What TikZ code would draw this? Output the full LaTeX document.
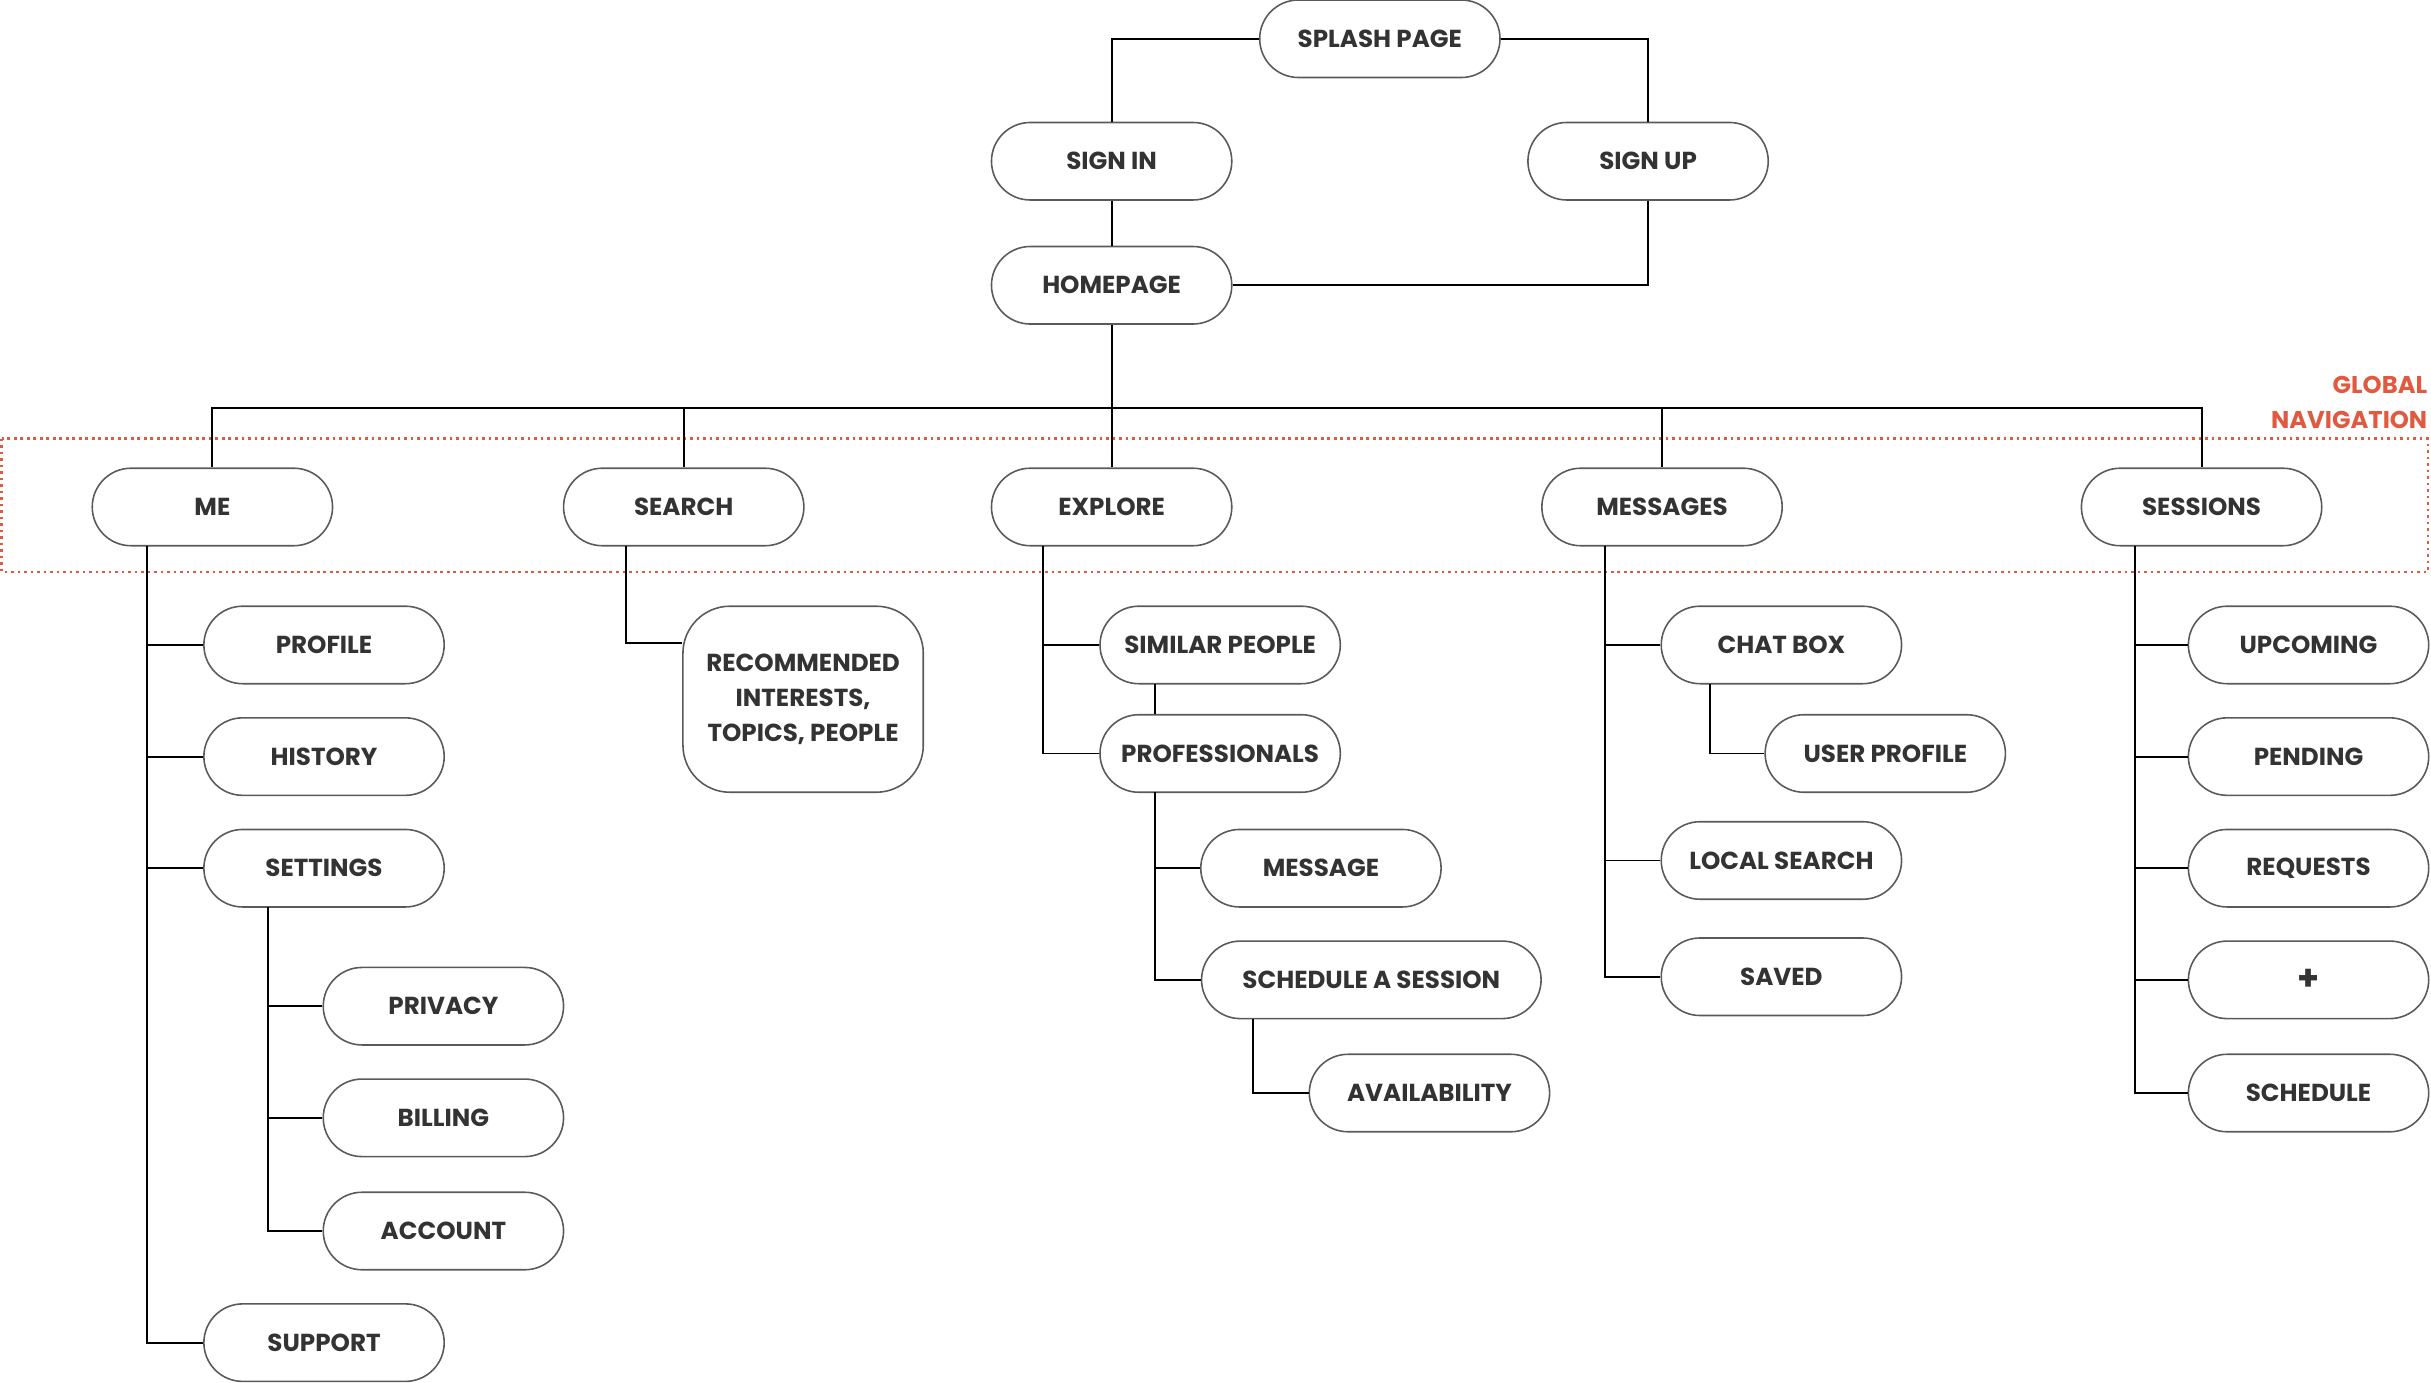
\documentclass[tikz,border=0pt]{standalone}
\usepackage{fontspec}
\setmainfont{Poppins}
\usetikzlibrary{positioning}
\definecolor{txt}{HTML}{333333}
\definecolor{edge}{HTML}{5A5A5A}
\definecolor{navred}{HTML}{E05A3F}
\begin{document}
\begin{tikzpicture}[x=0.015504cm,y=-0.015504cm,
  pill/.style={draw=edge,line width=0.45pt,fill=white,rounded corners=0.3875cm,
    minimum width=2.403cm,minimum height=0.775cm,inner sep=0pt,
    font=\fontsize{7}{9}\selectfont\bfseries,text=txt},
  widepill/.style={pill,minimum width=3.395cm},
  tallbox/.style={pill,rounded corners=0.47cm,minimum height=1.86cm,align=center,
    font=\fontsize{7}{9.9}\selectfont\bfseries},
  link/.style={draw=black,line width=0.55pt},
  navlabel/.style={font=\fontsize{6.9}{10.1}\selectfont\bfseries,text=navred,align=right,anchor=east,inner sep=0pt}]
\useasboundingbox (0,0) rectangle (1568,892);

% global navigation frame
\draw[navred,line width=0.75pt,dash pattern=on 0.75pt off 1.1pt] (1,283) rectangle (1566,369);
\node[navlabel] (navlab) at (1566,259.5) {GLOBAL\\NAVIGATION};

% top
\node[pill] (splash) at (890,25) {SPLASH PAGE};
\node[pill] (signin) at (717,104) {SIGN IN};
\node[pill] (signup) at (1063,104) {SIGN UP};
\node[pill] (home) at (717,184) {HOMEPAGE};

% level 1
\node[pill] (me) at (137,327) {ME};
\node[pill] (search) at (441,327) {SEARCH};
\node[pill] (explore) at (717,327) {EXPLORE};
\node[pill] (messages) at (1072,327) {MESSAGES};
\node[pill] (sessions) at (1420,327) {SESSIONS};

% ME
\node[pill] (profile) at (209,416) {PROFILE};
\node[pill] (history) at (209,488) {HISTORY};
\node[pill] (settings) at (209,560) {SETTINGS};
\node[pill] (privacy) at (286,649) {PRIVACY};
\node[pill] (billing) at (286,721) {BILLING};
\node[pill] (account) at (286,794) {ACCOUNT};
\node[pill] (support) at (209,866) {SUPPORT};

% SEARCH
\node[tallbox] (recommended) at (518,451) {RECOMMENDED\\INTERESTS,\\TOPICS, PEOPLE};

% EXPLORE
\node[pill] (similar) at (787,416) {SIMILAR PEOPLE};
\node[pill] (professionals) at (787,486) {PROFESSIONALS};
\node[pill] (message) at (852,560) {MESSAGE};
\node[widepill] (schedsess) at (884.5,632) {SCHEDULE A SESSION};
\node[pill] (availability) at (922,705) {AVAILABILITY};

% MESSAGES
\node[pill] (chatbox) at (1149,416) {CHAT BOX};
\node[pill] (userprofile) at (1216,486) {USER PROFILE};
\node[pill] (localsearch) at (1149,555) {LOCAL SEARCH};
\node[pill] (saved) at (1149,630) {SAVED};

% SESSIONS
\node[pill] (upcoming) at (1489,416) {UPCOMING};
\node[pill] (pending) at (1489,488) {PENDING};
\node[pill] (requests) at (1489,560) {REQUESTS};
\node[pill,font=\fontsize{10}{10}\selectfont\bfseries] (plus) at (1489,632) {+};
\node[pill] (schedule) at (1489,705) {SCHEDULE};

% spine coordinates
\coordinate (bus) at (717,263);
\coordinate (mespine) at (95,352);
\coordinate (setspine) at (173,585);
\coordinate (searchspine) at (404,352);
\coordinate (expspine) at (673,352);
\coordinate (profspine) at (745,511);
\coordinate (simspine) at (745,441);
\coordinate (schedspine) at (808,657);
\coordinate (msgspine) at (1035,352);
\coordinate (chatspine) at (1103,441);
\coordinate (sesspine) at (1377,352);

% top connections
\draw[link] (splash.west) -| (signin.north);
\draw[link] (splash.east) -| (signup.north);
\draw[link] (signin.south) -- (home.north);
\draw[link] (signup.south) |- (home.east);
\draw[link] (home.south) -- (bus);
\draw[link] (me.north) |- (bus) -| (sessions.north);
\draw[link] (search.north) -- (search.north |- bus);
\draw[link] (explore.north) -- (explore.north |- bus);
\draw[link] (messages.north) -- (messages.north |- bus);

% ME
\draw[link] (mespine) |- (support.west);
\draw[link] (profile.west) -- (profile.west -| mespine);
\draw[link] (history.west) -- (history.west -| mespine);
\draw[link] (settings.west) -- (settings.west -| mespine);
\draw[link] (setspine) |- (account.west);
\draw[link] (privacy.west) -- (privacy.west -| setspine);
\draw[link] (billing.west) -- (billing.west -| setspine);

% SEARCH
\draw[link] (searchspine) |- (recommended.west |- 0,415);

% EXPLORE
\draw[link] (expspine) |- (professionals.west);
\draw[link] (similar.west) -- (similar.west -| expspine);
\draw[link] (simspine) -- (simspine |- professionals.north);
\draw[link] (profspine) |- (schedsess.west);
\draw[link] (message.west) -- (message.west -| profspine);
\draw[link] (schedspine) |- (availability.west);

% MESSAGES
\draw[link] (msgspine) |- (saved.west);
\draw[link] (chatbox.west) -- (chatbox.west -| msgspine);
\draw[link] (localsearch.west) -- (localsearch.west -| msgspine);
\draw[link] (chatspine) |- (userprofile.west);

% SESSIONS
\draw[link] (sesspine) |- (schedule.west);
\draw[link] (upcoming.west) -- (upcoming.west -| sesspine);
\draw[link] (pending.west) -- (pending.west -| sesspine);
\draw[link] (requests.west) -- (requests.west -| sesspine);
\draw[link] (plus.west) -- (plus.west -| sesspine);
\end{tikzpicture}
\end{document}
